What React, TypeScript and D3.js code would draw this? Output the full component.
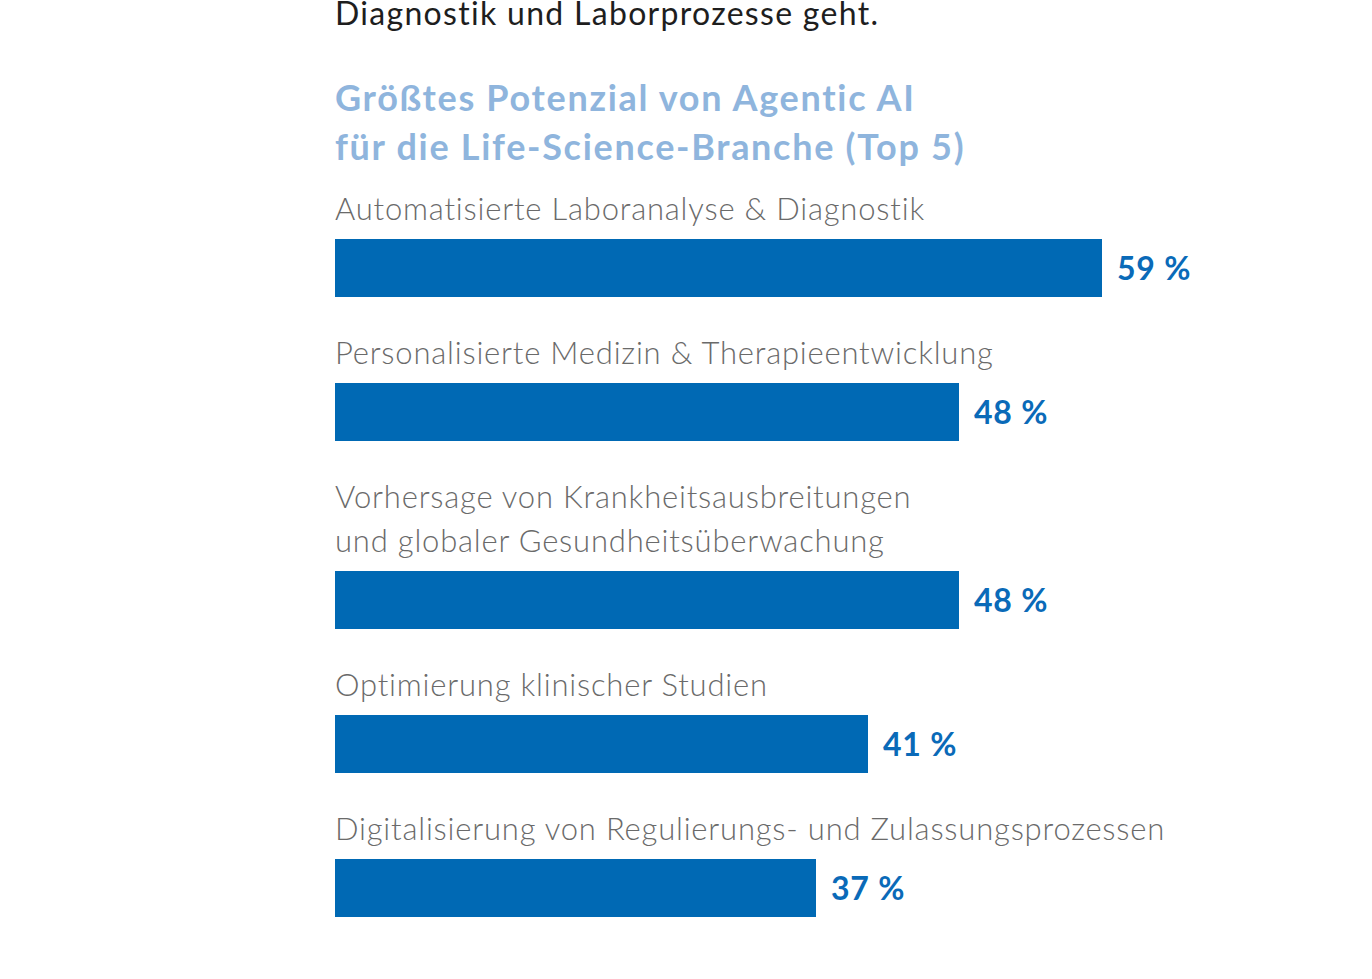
import React, { useEffect, useRef } from 'react';
import * as d3 from 'd3';

const categories: string[][] = [
  ['Automatisierte Laboranalyse & Diagnostik'],
  ['Personalisierte Medizin & Therapieentwicklung'],
  ['Vorhersage von Krankheitsausbreitungen', 'und globaler Gesundheitsüberwachung'],
  ['Optimierung klinischer Studien'],
  ['Digitalisierung von Regulierungs- und Zulassungsprozessen'],
];
const values = [59, 48, 48, 41, 37];
const titleLines = ['Größtes Potenzial von Agentic AI', 'für die Life-Science-Branche (Top 5)'];
const introLine = 'Diagnostik und Laborprozesse geht.';

const App: React.FC = () => {
  const svgRef = useRef<SVGSVGElement>(null);

  useEffect(() => {
    if (!svgRef.current) return;
    const width = 1372;
    const height = 979;
    const left = 335;
    const barH = 58;
    const lineH = 44;
    const font = 'Lato, "Noto Sans", sans-serif';

    const svg = d3.select(svgRef.current);
    svg.selectAll('*').remove();
    svg.attr('width', width).attr('height', height).style('font-family', font);

    const x = d3.scaleLinear().domain([0, 59]).range([left, 1102]);

    // intro text (cut off at top)
    svg.append('text')
      .attr('x', left).attr('y', 25)
      .attr('fill', '#1e1e1e')
      .style('font-size', '32px')
      .style('letter-spacing', '1.3px')
      .text(introLine);

    // title
    svg.append('g')
      .selectAll('text')
      .data(titleLines)
      .join('text')
      .attr('x', left)
      .attr('y', (_, i) => 111 + i * 49)
      .attr('fill', '#8fb5dd')
      .style('font-size', '36px')
      .style('font-weight', 700)
      .style('letter-spacing', '1.7px')
      .text(d => d);

    // layout rows
    let base = 220;
    const rows = categories.map((lines, i) => {
      const firstBase = base;
      const lastBase = firstBase + (lines.length - 1) * lineH;
      const barY = lastBase + 19;
      base = barY + barH + 67;
      return { lines, value: values[i], firstBase, barY };
    });

    const g = svg.append('g');
    const row = g.selectAll('g.row').data(rows).join('g').attr('class', 'row');

    row.each(function (d) {
      d3.select(this).selectAll('text.lbl')
        .data(d.lines)
        .join('text')
        .attr('class', 'lbl')
        .attr('x', left)
        .attr('y', (_, j) => d.firstBase + j * lineH)
        .attr('fill', '#6a6a6a')
        .style('font-size', '31px')
        .style('font-weight', 300)
        .style('letter-spacing', '0.8px')
        .text(t => t);
    });

    row.append('rect')
      .attr('x', x(0))
      .attr('y', d => d.barY)
      .attr('width', d => x(d.value) - x(0))
      .attr('height', barH)
      .attr('fill', '#0069b4');

    row.append('text')
      .attr('x', d => x(d.value) + 15)
      .attr('y', d => d.barY + barH / 2 + 12)
      .attr('fill', '#0a6ab8')
      .style('font-size', '32px')
      .style('font-weight', 700)
      .style('letter-spacing', '0.8px')
      .text(d => `${d.value} %`);
  }, []);

  return (
    <svg
      ref={svgRef}
      style={{ position: 'absolute', left: 0, top: 0, display: 'block', background: '#ffffff' }}
    />
  );
};

export default App;
